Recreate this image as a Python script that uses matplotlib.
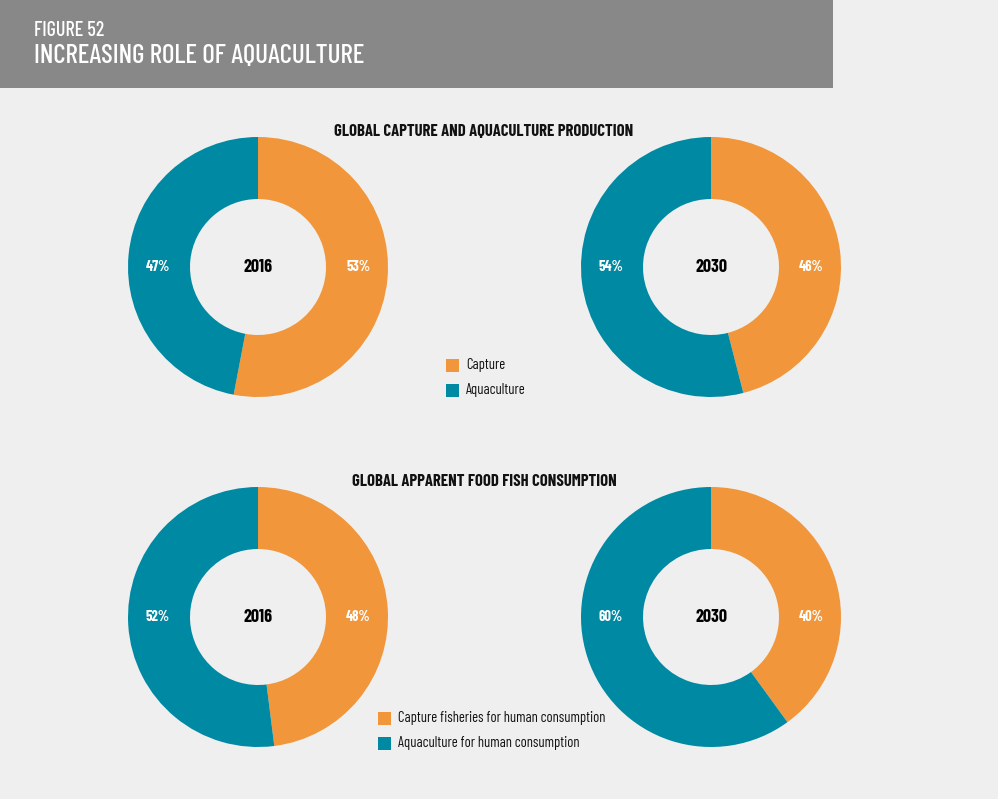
import matplotlib
matplotlib.use("Agg")
import matplotlib.pyplot as plt
from matplotlib.patches import Rectangle

plt.rcParams['font.family'] = ['Barlow Condensed', 'DejaVu Sans']

# data
years = ['2016', '2030']
production_capture = [53, 46]
production_aqua = [47, 54]
consumption_capture = [48, 40]
consumption_aqua = [52, 60]
production_labels = ['Capture', 'Aquaculture']
consumption_labels = ['Capture fisheries for human consumption',
                      'Aquaculture for human consumption']

ORANGE = '#f1963a'
TEAL = '#0089a3'
BG = '#efefef'
W, H = 998, 799

fig = plt.figure(figsize=(W / 100, H / 100), dpi=100, facecolor=BG)


def px_axes(x0, y0, w, h):
    # axes from pixel box (top-left origin)
    return fig.add_axes([x0 / W, 1 - (y0 + h) / H, w / W, h / H])


def donut(cx, cy, capture, aqua, year):
    r = 130
    ax = px_axes(cx - r, cy - r, 2 * r, 2 * r)
    ax.pie([capture, aqua], colors=[ORANGE, TEAL], startangle=90,
           counterclock=False, radius=1,
           wedgeprops=dict(width=1 - 68 / 130, edgecolor='none'))
    ax.set_xlim(-1, 1)
    ax.set_ylim(-1, 1)
    ax.set_aspect('equal')
    ax.axis('off')
    ax.text(0, 0, year, ha='center', va='center', fontsize=13,
            fontweight='bold', color='black')
    ax.text(0.77, 0, f'{capture}%', ha='center', va='center', fontsize=10.5,
            fontweight='bold', color='white')
    ax.text(-0.77, 0, f'{aqua}%', ha='center', va='center', fontsize=10.5,
            fontweight='bold', color='white')


# background / header
bg = fig.add_axes([0, 0, 1, 1])
bg.set_xlim(0, W)
bg.set_ylim(H, 0)
bg.axis('off')
bg.add_patch(Rectangle((0, 0), 833, 88, color='#888888', lw=0))
bg.text(34, 31, 'FIGURE 52', ha='left', va='center', fontsize=14.5,
        color='white', fontweight='medium')
bg.text(34, 56, 'INCREASING ROLE OF AQUACULTURE', ha='left', va='center',
        fontsize=19.5, color='white', fontweight='medium')

bg.text(484, 131, 'GLOBAL CAPTURE AND AQUACULTURE PRODUCTION', ha='center',
        va='center', fontsize=12, fontweight='bold', color='#111111')
bg.text(484, 481, 'GLOBAL APPARENT FOOD FISH CONSUMPTION', ha='center',
        va='center', fontsize=12, fontweight='bold', color='#111111')

# legends
for i, (lab, col) in enumerate(zip(production_labels, [ORANGE, TEAL])):
    y = 365 + i * 25
    bg.add_patch(Rectangle((446, y - 6.5), 13, 13, color=col, lw=0))
    bg.text(466, y, lab, ha='left', va='center', fontsize=10.5, color='#111111')

for i, (lab, col) in enumerate(zip(consumption_labels, [ORANGE, TEAL])):
    y = 718 + i * 25
    bg.add_patch(Rectangle((378, y - 6.5), 13, 13, color=col, lw=0))
    bg.text(398, y, lab, ha='left', va='center', fontsize=10.5, color='#111111')

centers_x = [258, 711]
for j in range(2):
    donut(centers_x[j], 267, production_capture[j], production_aqua[j], years[j])
    donut(centers_x[j], 617, consumption_capture[j], consumption_aqua[j], years[j])

fig.savefig('out.png', dpi=100, facecolor=BG)
